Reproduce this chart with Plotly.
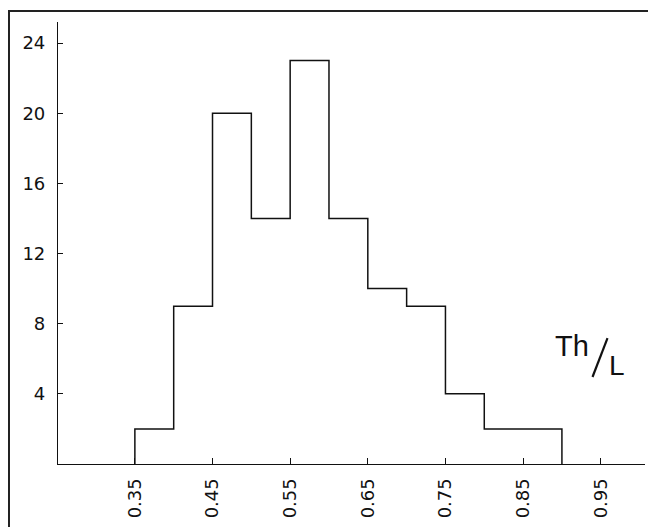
import plotly.graph_objects as go

bin_edges = [0.35, 0.40, 0.45, 0.50, 0.55, 0.60, 0.65, 0.70, 0.75, 0.80, 0.85, 0.90]
counts = [2, 9, 20, 14, 23, 14, 10, 9, 4, 2, 2]
x_ticks = [0.35, 0.45, 0.55, 0.65, 0.75, 0.85, 0.95]
x_tick_labels = ["0.35", "0.45", "0.55", "0.65", "0.75", "0.85", "0.95"]
y_ticks = [4, 8, 12, 16, 20, 24]
y_tick_labels = ["4", "8", "12", "16", "20", "24"]

# step outline: start at 0, rise at first edge, fall at last edge
xs = [bin_edges[0]] + bin_edges
ys = [0] + counts + [0]

fig = go.Figure()
fig.add_trace(go.Scatter(
    x=xs, y=ys, mode="lines", line=dict(shape="hv", color="#111111", width=1.5),
    hoverinfo="skip", showlegend=False))

tickfont = "DejaVu Sans, sans-serif"
font = "Liberation Sans, Arial, sans-serif"
fig.update_layout(
    width=656, height=527,
    margin=dict(l=50, r=19, t=14, b=71),
    paper_bgcolor="white", plot_bgcolor="white",
    showlegend=False,
    xaxis=dict(range=[0.251, 1.007], tickvals=x_ticks, ticktext=x_tick_labels,
               tickangle=-90, ticks="inside", ticklen=6, tickcolor="#111111",
               showline=True, linecolor="#111111", linewidth=1.2,
               showgrid=False, zeroline=False,
               tickfont=dict(family=tickfont, size=18, color="#111111"),
               ticklabelstandoff=6),
    yaxis=dict(range=[0, 25.2], tickvals=y_ticks, ticktext=y_tick_labels,
               ticks="inside", ticklen=5, tickcolor="#111111",
               showline=True, linecolor="#111111", linewidth=1.2,
               showgrid=False, zeroline=False,
               tickfont=dict(family=tickfont, size=18, color="#111111"),
               ticklabelstandoff=8),
)

# outer frame around the figure
fig.add_shape(type="rect", xref="paper", yref="paper",
              x0=-0.0835, x1=1.0119, y0=-0.3, y1=1.025,
              line=dict(color="#222222", width=2), layer="above")

# Th/L label
fig.add_annotation(x=0.938, y=5.7, xref="x", yref="y", text="Th", showarrow=False,
                   xanchor="right", yanchor="bottom",
                   font=dict(family=font, size=29, color="#111111"))
fig.add_annotation(x=0.958, y=4.6, xref="x", yref="y", text="L", showarrow=False,
                   xanchor="left", yanchor="bottom",
                   font=dict(family=font, size=28, color="#111111"))
fig.add_shape(type="line", xref="x", yref="y", x0=0.9587, y0=7.18, x1=0.9394, y1=4.96,
              line=dict(color="#111111", width=2.2))

fig.write_html("out.html")
